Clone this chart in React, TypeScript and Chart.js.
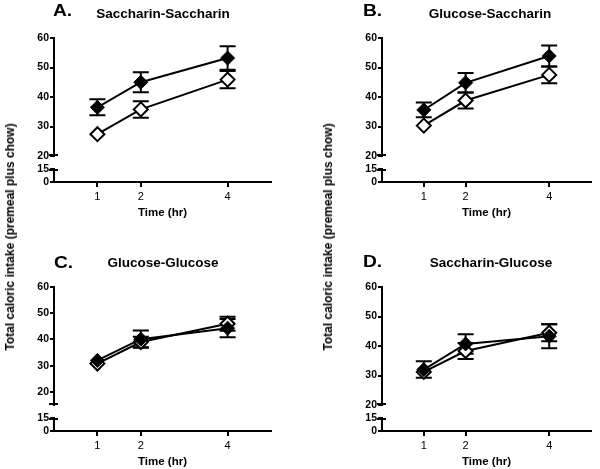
import React, { useEffect, useRef } from "react";
import { Chart, registerables } from "chart.js";

Chart.register(...registerables);

const FONT = '"Liberation Sans", Arial, Helvetica, sans-serif';

// ---- data ----
const TIMES = [1, 2, 4];
const X_TICKS = [1, 2, 4];
const UPPER_TICKS = [20, 30, 40, 50, 60];
const LOWER_TICKS = [0, 15];
const Y_LABEL = "Total caloric intake (premeal plus chow)";
const X_LABEL = "Time (hr)";

// Panel A: Saccharin-Saccharin
const A_FILLED = [36.5, 45.0, 53.2];
const A_FILLED_SEM = [2.7, 3.4, 4.0];
const A_OPEN = [27.4, 35.8, 45.9];
const A_OPEN_SEM = [0, 2.8, 2.9];

// Panel B: Glucose-Saccharin
const B_FILLED = [35.6, 44.8, 53.9];
const B_FILLED_SEM = [2.5, 3.3, 3.6];
const B_OPEN = [30.3, 38.8, 47.5];
const B_OPEN_SEM = [0, 2.7, 2.8];

// Panel C: Glucose-Glucose
const C_FILLED = [32.0, 40.1, 44.3];
const C_FILLED_SEM = [0, 3.3, 3.5];
const C_OPEN = [30.8, 39.0, 46.0];
const C_OPEN_SEM = [0, 2.0, 2.7];

// Panel D: Saccharin-Glucose
const D_FILLED = [32.0, 40.7, 43.3];
const D_FILLED_SEM = [2.8, 3.3, 4.1];
const D_OPEN = [31.2, 38.3, 44.5];
const D_OPEN_SEM = [0, 2.7, 2.9];

type Area = { l: number; r: number; t: number; b: number };

type PanelProps = {
  left: number;
  top: number;
  width: number;
  height: number;
  area: Area;
  upperMin: number;
  filled: number[];
  filledSem: number[];
  open: number[];
  openSem: number[];
};

const Y_W = 30;
const X_H = 38;

function Panel(p: PanelProps) {
  const ref = useRef<HTMLCanvasElement | null>(null);

  useEffect(() => {
    if (!ref.current) return;
    const axisGrid = {
      display: true,
      drawOnChartArea: false,
      drawTicks: true,
      tickLength: 5,
      lineWidth: 2,
      color: "#000",
    };
    const axisBorder = { display: true, width: 2, color: "#000" };
    const yTickFont = { family: FONT, size: 10.5, weight: "bold" as const };

    const errPlugin = {
      id: "errorBars",
      beforeDatasetsDraw(chart: any) {
        const ctx = chart.ctx;
        const xs = chart.scales.x;
        const ys = chart.scales.yTop;
        ctx.save();
        ctx.strokeStyle = "#000";
        ctx.lineWidth = 2;
        const groups: [number[], number[]][] = [
          [p.open, p.openSem],
          [p.filled, p.filledSem],
        ];
        groups.forEach(([vals, sems]) => {
          vals.forEach((v, i) => {
            if (!sems[i]) return;
            const x = xs.getPixelForValue(TIMES[i]);
            const y1 = ys.getPixelForValue(v + sems[i]);
            const y2 = ys.getPixelForValue(v - sems[i]);
            ctx.beginPath();
            ctx.moveTo(x, y1);
            ctx.lineTo(x, y2);
            ctx.moveTo(x - 8, y1);
            ctx.lineTo(x + 8, y1);
            ctx.moveTo(x - 8, y2);
            ctx.lineTo(x + 8, y2);
            ctx.stroke();
          });
        });
        ctx.restore();
      },
      afterDraw(chart: any) {
        const ctx = chart.ctx;
        const yt = chart.scales.yTop;
        const yb = chart.scales.yBot;
        const x = chart.chartArea.left;
        ctx.save();
        ctx.strokeStyle = "#000";
        ctx.lineWidth = 2;
        ctx.beginPath();
        ctx.moveTo(x - 5, yt.bottom - 1);
        ctx.lineTo(x + 4, yt.bottom - 1);
        ctx.moveTo(x - 5, yb.top + 1);
        ctx.lineTo(x + 4, yb.top + 1);
        ctx.stroke();
        ctx.restore();
      },
    };

    const chart = new Chart(ref.current, {
      type: "line",
      data: {
        datasets: [
          {
            label: "filled",
            data: TIMES.map((t, i) => ({ x: t, y: p.filled[i] })),
            yAxisID: "yTop",
            xAxisID: "x",
            borderColor: "#000",
            borderWidth: 2,
            backgroundColor: "#000",
            pointStyle: "rectRot",
            pointRadius: 7,
            pointBackgroundColor: "#000",
            pointBorderColor: "#000",
            pointBorderWidth: 1,
            tension: 0,
            fill: false,
          },
          {
            label: "open",
            data: TIMES.map((t, i) => ({ x: t, y: p.open[i] })),
            yAxisID: "yTop",
            xAxisID: "x",
            borderColor: "#000",
            borderWidth: 2,
            backgroundColor: "#fff",
            pointStyle: "rectRot",
            pointRadius: 7,
            pointBackgroundColor: "#fff",
            pointBorderColor: "#000",
            pointBorderWidth: 2,
            tension: 0,
            fill: false,
          },
        ],
      },
      options: {
        responsive: false,
        animation: false,
        events: [],
        layout: {
          padding: {
            left: p.area.l - Y_W,
            right: p.width - p.area.r,
            top: p.area.t,
            bottom: p.height - p.area.b - X_H,
          },
        },
        plugins: {
          legend: { display: false },
          tooltip: { enabled: false },
          title: { display: false },
        },
        scales: {
          x: {
            type: "linear",
            position: "bottom",
            min: 0,
            max: 5,
            afterBuildTicks: (s: any) => {
              s.ticks = X_TICKS.map((v) => ({ value: v }));
            },
            afterFit: (s: any) => {
              s.height = X_H;
            },
            grid: axisGrid,
            border: axisBorder,
            ticks: {
              color: "#000",
              font: { family: FONT, size: 11 },
              padding: 3,
              maxRotation: 0,
              autoSkip: false,
            },
            title: {
              display: true,
              text: X_LABEL,
              color: "#000",
              font: { family: FONT, size: 11.5, weight: "bold" },
              padding: { top: 0, bottom: 0 },
            },
          },
          yTop: {
            type: "linear",
            position: "left",
            stack: "y",
            stackWeight: 118,
            weight: 3,
            min: p.upperMin,
            max: 60,
            afterBuildTicks: (s: any) => {
              s.ticks = UPPER_TICKS.map((v) => ({ value: v }));
            },
            afterFit: (s: any) => {
              s.width = Y_W;
            },
            grid: { ...axisGrid, tickLength: 4 },
            border: axisBorder,
            ticks: { color: "#000", font: yTickFont, padding: 1, autoSkip: false },
          },
          yGap: {
            type: "linear",
            position: "left",
            stack: "y",
            stackWeight: 13,
            weight: 2,
            min: 0,
            max: 1,
            afterFit: (s: any) => {
              s.width = Y_W;
            },
            grid: { display: false },
            border: { display: false },
            ticks: { display: false },
          },
          yBot: {
            type: "linear",
            position: "left",
            stack: "y",
            stackWeight: 13,
            weight: 1,
            min: 0,
            max: 15,
            afterBuildTicks: (s: any) => {
              s.ticks = LOWER_TICKS.map((v) => ({ value: v }));
            },
            afterFit: (s: any) => {
              s.width = Y_W;
            },
            grid: { ...axisGrid, tickLength: 4 },
            border: axisBorder,
            ticks: { color: "#000", font: yTickFont, padding: 1, autoSkip: false },
          },
        },
      } as any,
      plugins: [errPlugin],
    });
    return () => chart.destroy();
  }, []);

  return (
    <canvas
      ref={ref}
      width={p.width}
      height={p.height}
      style={{
        position: "absolute",
        left: p.left,
        top: p.top,
        width: p.width,
        height: p.height,
      }}
    />
  );
}

function Label(props: {
  text: string;
  x: number;
  y: number;
  size: number;
  align?: "left" | "center";
  scaleX?: number;
}) {
  const { text, x, y, size, align = "left", scaleX = 1 } = props;
  const tx = align === "center" ? "-50%" : "0";
  return (
    <div
      style={{
        position: "absolute",
        left: x,
        top: y - size / 2,
        height: size,
        lineHeight: `${size}px`,
        fontSize: size,
        fontFamily: FONT,
        fontWeight: "bold",
        color: "#000",
        whiteSpace: "nowrap",
        transform: `translateX(${tx}) scaleX(${scaleX})`,
        transformOrigin: align === "center" ? "center" : "left",
      }}
    >
      {text}
    </div>
  );
}

function YLabel(props: { x: number; y: number }) {
  return (
    <div
      style={{
        position: "absolute",
        left: props.x,
        top: props.y,
        fontSize: 12,
        lineHeight: "12px",
        fontFamily: FONT,
        fontWeight: "bold",
        color: "#000",
        whiteSpace: "nowrap",
        transform: "translate(-50%, -50%) rotate(-90deg)",
      }}
    >
      {Y_LABEL}
    </div>
  );
}

export default function App() {
  const topH = 234;
  const botTop = 232;
  const botH = 469 - botTop;
  return (
    <div
      style={{
        position: "absolute",
        left: 0,
        top: 0,
        width: 600,
        height: 469,
        background: "#fff",
        overflow: "hidden",
      }}
    >
      <Panel
        left={0}
        top={0}
        width={300}
        height={topH}
        area={{ l: 54, r: 271, t: 38, b: 182 }}
        upperMin={20}
        filled={A_FILLED}
        filledSem={A_FILLED_SEM}
        open={A_OPEN}
        openSem={A_OPEN_SEM}
      />
      <Panel
        left={300}
        top={0}
        width={300}
        height={topH}
        area={{ l: 82, r: 298, t: 38, b: 182 }}
        upperMin={20}
        filled={B_FILLED}
        filledSem={B_FILLED_SEM}
        open={B_OPEN}
        openSem={B_OPEN_SEM}
      />
      <Panel
        left={0}
        top={botTop}
        width={300}
        height={botH}
        area={{ l: 54, r: 271, t: 287 - botTop, b: 431 - botTop }}
        upperMin={15}
        filled={C_FILLED}
        filledSem={C_FILLED_SEM}
        open={C_OPEN}
        openSem={C_OPEN_SEM}
      />
      <Panel
        left={300}
        top={botTop}
        width={300}
        height={botH}
        area={{ l: 82, r: 298, t: 287 - botTop, b: 431 - botTop }}
        upperMin={20}
        filled={D_FILLED}
        filledSem={D_FILLED_SEM}
        open={D_OPEN}
        openSem={D_OPEN_SEM}
      />

      <Label text="A." x={53} y={11} size={16} scaleX={1.2} />
      <Label text="B." x={363} y={10.5} size={16} scaleX={1.2} />
      <Label text="C." x={54} y={263} size={16} scaleX={1.2} />
      <Label text="D." x={363} y={262} size={16} scaleX={1.2} />

      <Label text="Saccharin-Saccharin" x={163} y={13.5} size={13.5} align="center" />
      <Label text="Glucose-Saccharin" x={490} y={14} size={13.5} align="center" />
      <Label text="Glucose-Glucose" x={163} y={262.5} size={13.5} align="center" />
      <Label text="Saccharin-Glucose" x={491} y={262.5} size={13.5} align="center" />

      <YLabel x={9.5} y={236.5} />
      <YLabel x={327.5} y={236.5} />
    </div>
  );
}
